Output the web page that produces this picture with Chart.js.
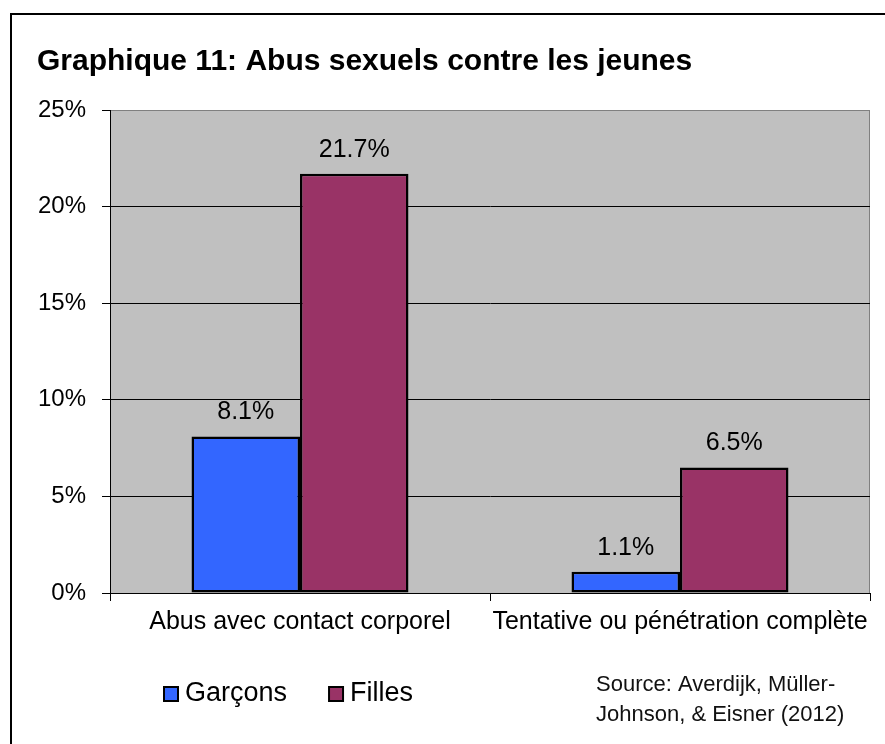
<!DOCTYPE html>
<html>
<head>
<meta charset="utf-8">
<script src="https://cdn.jsdelivr.net/npm/chart.js@4.4.1/dist/chart.umd.min.js"></script>
<style>
  html, body { margin: 0; padding: 0; background: #fff; }
  #wrap { width: 885px; height: 744px; }
</style>
</head>
<body>
<div id="wrap"><canvas id="chart" width="885" height="744"></canvas></div>
<script>
// --- data ---
const categories = ['Abus avec contact corporel', 'Tentative ou pénétration complète'];
const seriesNames = ['Garçons', 'Filles'];
const garcons = [8.1, 1.1];
const filles = [21.7, 6.5];
const yTicks = [0, 5, 10, 15, 20, 25];
const titleText = 'Graphique 11: Abus sexuels contre les jeunes';
const sourceLines = ['Source: Averdijk, Müller-', 'Johnson, & Eisner (2012)'];

const FONT = "'Liberation Sans', Arial, sans-serif";
const colors = ['#3366FF', '#993366'];

// frame, plot background, value labels, legend and source note
const decor = {
  id: 'decor',
  beforeDraw(chart) {
    const { ctx, chartArea: a } = chart;
    ctx.save();
    ctx.fillStyle = '#fff';
    ctx.fillRect(0, 0, chart.width, chart.height);
    ctx.fillStyle = '#000';
    ctx.fillRect(10, 13, chart.width, 2);
    ctx.fillRect(10, 13, 2, chart.height);
    ctx.fillStyle = '#C0C0C0';
    ctx.fillRect(a.left, a.top, a.right - a.left, a.bottom - a.top);
    ctx.strokeStyle = '#808080';
    ctx.lineWidth = 1;
    ctx.strokeRect(a.left + 0.5, a.top + 0.5, a.right - a.left - 1, a.bottom - a.top);
    ctx.restore();
  },
  afterDatasetsDraw(chart) {
    const { ctx } = chart;
    ctx.save();
    ctx.fillStyle = '#000';
    ctx.font = `25px ${FONT}`;
    ctx.textAlign = 'center';
    ctx.textBaseline = 'middle';
    chart.data.datasets.forEach((ds, i) => {
      chart.getDatasetMeta(i).data.forEach((bar, j) => {
        ctx.fillText(ds.data[j].toFixed(1) + '%', bar.x, bar.y - 24);
      });
    });
    ctx.restore();
  },
  afterDraw(chart) {
    const { ctx } = chart;
    ctx.save();
    // legend
    ctx.font = `27px ${FONT}`;
    ctx.textAlign = 'left';
    ctx.textBaseline = 'middle';
    let x = 164;
    const y = 694;
    chart.data.datasets.forEach(ds => {
      ctx.fillStyle = ds.backgroundColor;
      ctx.fillRect(x, y - 7, 14, 14);
      ctx.strokeStyle = '#000';
      ctx.lineWidth = 2;
      ctx.strokeRect(x, y - 7, 14, 14);
      ctx.fillStyle = '#000';
      ctx.fillText(ds.label, x + 21, y);
      x += 21 + ctx.measureText(ds.label).width + 42;
    });
    // source
    ctx.font = `22px ${FONT}`;
    ctx.fillStyle = '#111';
    sourceLines.forEach((line, i) => ctx.fillText(line, 596, 685 + i * 30));
    ctx.restore();
  }
};

new Chart(document.getElementById('chart'), {
  type: 'bar',
  data: {
    labels: categories,
    datasets: [
      { label: seriesNames[0], data: garcons, backgroundColor: colors[0] },
      { label: seriesNames[1], data: filles, backgroundColor: colors[1] }
    ].map(d => Object.assign(d, { borderColor: '#000', borderWidth: 2.5, borderSkipped: false }))
  },
  options: {
    responsive: false,
    devicePixelRatio: 1,
    animation: false,
    categoryPercentage: 0.571,
    barPercentage: 1,
    layout: { padding: { left: 37, right: 15, top: 0, bottom: 0 } },
    plugins: {
      legend: { display: false },
      tooltip: { enabled: false },
      title: {
        display: true,
        text: titleText,
        align: 'start',
        color: '#000',
        font: { family: FONT, size: 30, weight: 'bold' },
        padding: { top: 44, bottom: 30 }
      }
    },
    scales: {
      x: {
        offset: true,
        grid: { offset: true, drawOnChartArea: false, drawTicks: true, tickLength: 8, color: '#000' },
        border: { color: '#000', width: 1 },
        ticks: {
          color: '#000',
          font: { family: FONT, size: 25 },
          padding: 6,
          maxRotation: 0,
          minRotation: 0,
          autoSkip: false
        },
        afterFit: s => { s.height = 151; }
      },
      y: {
        min: yTicks[0],
        max: yTicks[yTicks.length - 1],
        afterBuildTicks: s => { s.ticks = yTicks.map(v => ({ value: v })); },
        grid: {
          color: c => (c.tick && c.tick.value === yTicks[yTicks.length - 1]) ? '#808080' : '#000',
          tickColor: '#000',
          tickLength: 8
        },
        border: { color: '#000', width: 1 },
        ticks: {
          color: '#000',
          font: { family: FONT, size: 24 },
          padding: 16,
          callback: v => v + '%'
        },
        afterFit: s => { s.width = 73; }
      }
    }
  },
  plugins: [decor]
});
</script>
</body>
</html>
